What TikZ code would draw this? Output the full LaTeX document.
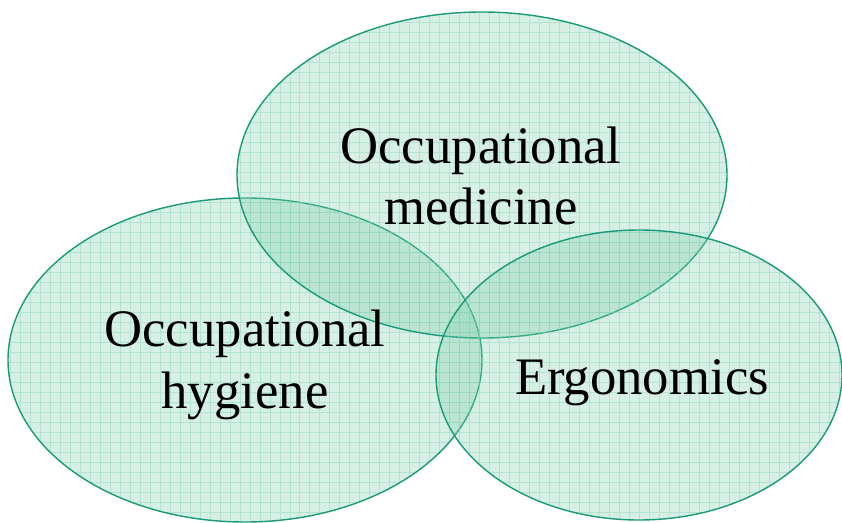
\documentclass[tikz,border=0pt]{standalone}
\usepackage{fontspec}
\setmainfont{Liberation Serif}
\usepackage{tikz}
\usetikzlibrary{positioning}

\definecolor{mintfill}{RGB}{120,205,170}
\definecolor{mintline}{RGB}{26,154,120}
\definecolor{mintgrid}{RGB}{140,212,185}

\begin{document}
\begin{tikzpicture}[x=0.02cm,y=0.02cm,
        field/.style = {
            fill=mintfill,
            fill opacity=0.3
        },
        rim/.style = {
            draw=mintline,
            line width=0.8pt
        },
        squares/.style = {
            draw=mintgrid,
            line width=0.5pt,
            opacity=0.45
        },
        label/.style = {
            align=center,
            font=\fontsize{30}{35.2}\selectfont
        }]

        \useasboundingbox (0,0) rectangle (842,522);

        % occupational hygiene
        \fill[field] (245,162) ellipse [x radius=237, y radius=162];
        \begin{scope}
            \clip (245,162) ellipse [x radius=237, y radius=162];
            \draw[squares] (0,0) grid[step=0.2cm] (842,522);
        \end{scope}
        \draw[rim] (245,162) ellipse [x radius=237, y radius=162];

        % occupational medicine
        \fill[field] (482,347) ellipse [x radius=245, y radius=163];
        \begin{scope}
            \clip (482,347) ellipse [x radius=245, y radius=163];
            \draw[squares] (0,0) grid[step=0.2cm] (842,522);
        \end{scope}
        \draw[rim] (482,347) ellipse [x radius=245, y radius=163];

        % ergonomics
        \fill[field] (639,147) ellipse [x radius=203, y radius=145];
        \begin{scope}
            \clip (639,147) ellipse [x radius=203, y radius=145];
            \draw[squares] (0,0) grid[step=0.2cm] (842,522);
        \end{scope}
        \draw[rim] (639,147) ellipse [x radius=203, y radius=145];

        \node[label] (med) at (481,346) {Occupational\\medicine};
        \node[label] (hyg) at (245,157) {Occupational\\hygiene};
        \node[label] (ergo) at (642,139) {Ergonomics};
    \end{tikzpicture}
\end{document}
